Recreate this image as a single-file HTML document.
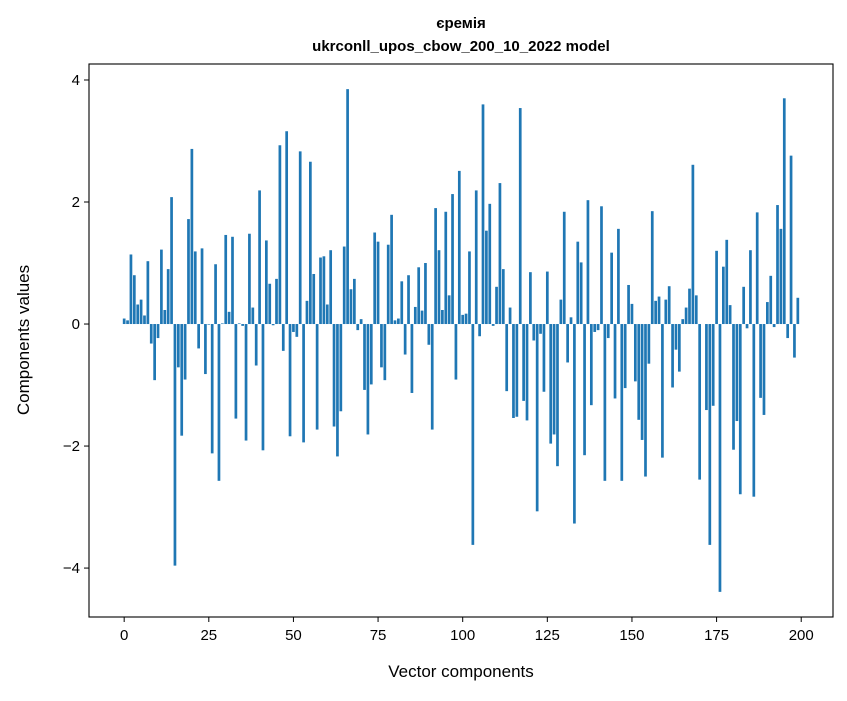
<!DOCTYPE html>
<html><head><meta charset="utf-8"><style>
body{margin:0;background:#fff;}
svg text{font-family:"Liberation Sans","DejaVu Sans",sans-serif;fill:#000;}
</style></head><body>
<svg id="chart" width="847" height="696" xmlns="http://www.w3.org/2000/svg">
<rect width="847" height="696" fill="#fff"/>
<text x="461" y="28" text-anchor="middle" font-size="15" font-weight="bold">єремія</text>
<text x="461" y="51" text-anchor="middle" font-size="15" font-weight="bold">ukrconll_upos_cbow_200_10_2022 model</text>
<g id="bars"></g>
<g id="axes"></g>
<text x="461" y="677" text-anchor="middle" font-size="17">Vector components</text>
<text transform="translate(29,340) rotate(-90)" text-anchor="middle" font-size="17">Components values</text>
</svg>
<script>
const values = [
0.09,0.06,1.14,0.80,0.32,0.40,0.14,1.03,-0.32,-0.92,-0.23,1.22,0.23,0.90,2.08,-3.96,-0.71,-1.83,-0.91,1.72,2.87,1.19,-0.40,1.24,-0.82,
-0.01,-2.12,0.98,-2.57,0.01,1.46,0.20,1.43,-1.55,0.01,-0.03,-1.91,1.48,0.27,-0.68,2.19,-2.07,1.37,0.66,-0.02,0.74,2.93,-0.44,3.16,-1.84,
-0.13,-0.21,2.83,-1.94,0.38,2.66,0.82,-1.73,1.09,1.11,0.32,1.21,-1.68,-2.17,-1.43,1.27,3.85,0.57,0.74,-0.10,0.08,-1.08,-1.81,-0.99,1.50,
1.35,-0.71,-0.92,1.30,1.79,0.06,0.09,0.70,-0.50,0.80,-1.13,0.28,0.93,0.22,1.00,-0.34,-1.73,1.90,1.21,0.23,1.84,0.47,2.13,-0.91,2.51,
0.15,0.17,1.19,-3.62,2.19,-0.20,3.60,1.53,1.97,-0.03,0.61,2.31,0.90,-1.10,0.27,-1.54,-1.52,3.54,-1.26,-1.58,0.85,-0.27,-3.07,-0.16,-1.11,
0.86,-1.96,-1.81,-2.33,0.40,1.84,-0.63,0.11,-3.27,1.35,1.01,-2.15,2.03,-1.33,-0.13,-0.10,1.93,-2.57,-0.23,1.17,-1.22,1.56,-2.57,-1.05,0.64,
0.33,-0.94,-1.57,-1.90,-2.50,-0.65,1.85,0.38,0.45,-2.19,0.40,0.62,-1.04,-0.42,-0.78,0.08,0.27,0.58,2.61,0.47,-2.55,0.00,-1.41,-3.62,-1.34,
1.20,-4.39,0.94,1.38,0.31,-2.06,-1.59,-2.79,0.61,-0.07,1.21,-2.83,1.83,-1.21,-1.49,0.36,0.79,-0.05,1.95,1.56,3.70,-0.23,2.76,-0.55,0.43
];
const xTicks = [0,25,50,75,100,125,150,175,200];
const yTicks = [-4,-2,0,2,4];
const yTickLabels = ["−4","−2","0","2","4"];

const L=89,R=833,T=64,B=617,NS="http://www.w3.org/2000/svg";
const n=values.length, xr=(n-1)+0.8, xm=xr*0.05;
const x0=-0.4-xm, x1=(n-1)+0.4+xm;
const vmin=Math.min(0,...values), vmax=Math.max(0,...values), ym=(vmax-vmin)*0.05;
const y0=vmin-ym, y1=vmax+ym;
const sx=v=>L+(v-x0)/(x1-x0)*(R-L);
const sy=v=>B-(v-y0)/(y1-y0)*(B-T);
const gb=document.getElementById('bars'), ga=document.getElementById('axes');
function mk(t,a,p){const e=document.createElementNS(NS,t);for(const k in a)e.setAttribute(k,a[k]);p.appendChild(e);return e;}
values.forEach((v,i)=>{
  const r=mk('rect',{x:sx(i-0.4),width:sx(i+0.4)-sx(i-0.4),y:Math.min(sy(v),sy(0)),height:Math.abs(sy(v)-sy(0)),fill:'#1f77b4'},gb);
  
  
});
const frame=mk('rect',{x:L,y:T,width:R-L,height:B-T,fill:'none',stroke:'#000','stroke-width':1.1},ga);


xTicks.forEach(t=>{
  const x=sx(t);
  const l=mk('line',{x1:x,x2:x,y1:B,y2:B+5,stroke:'#000','stroke-width':1},ga);
  
  
  const tx=mk('text',{x:x,y:B+23,'text-anchor':'middle','font-size':15},ga);
  tx.textContent=t;
  
  
});
yTicks.forEach((t,i)=>{
  const y=sy(t);
  const l=mk('line',{x1:L-5,x2:L,y1:y,y2:y,stroke:'#000','stroke-width':1},ga);
  
  
  const tx=mk('text',{x:L-9,y:y+5,'text-anchor':'end','font-size':15},ga);
  tx.textContent=yTickLabels[i];
  
  
});
</script>
</body></html>
